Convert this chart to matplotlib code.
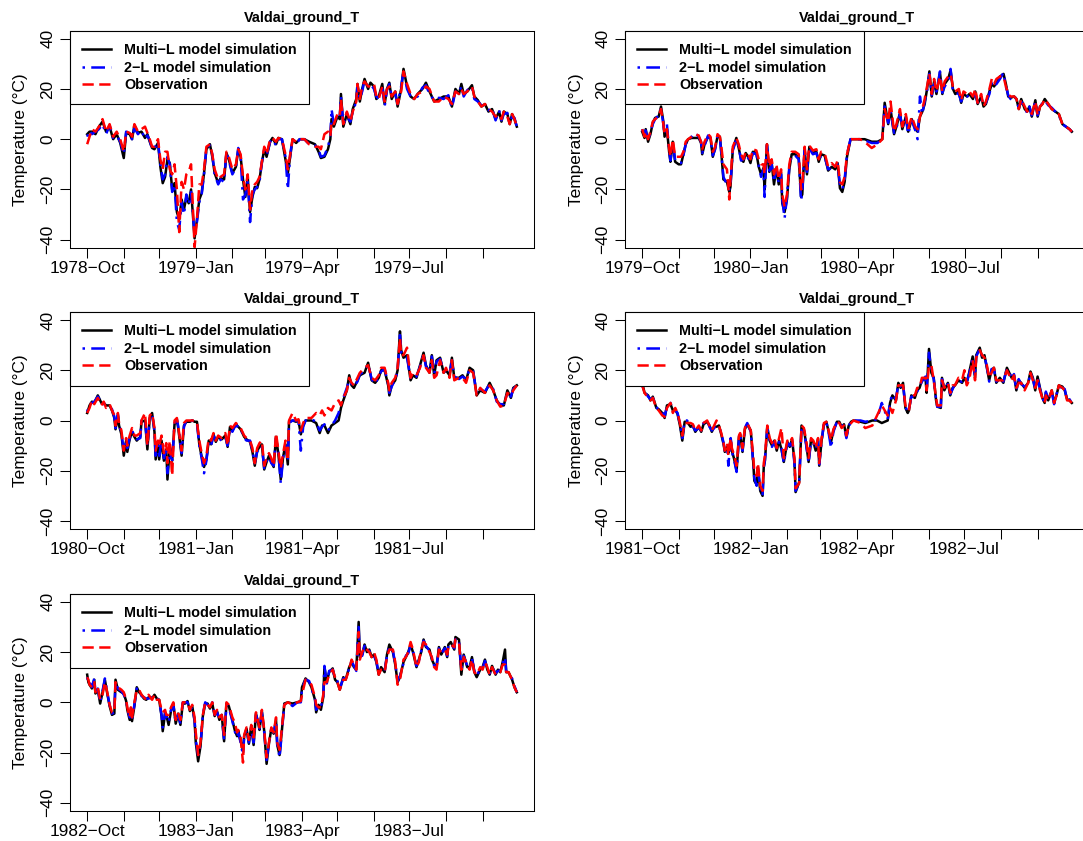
import matplotlib
matplotlib.use("Agg")
import matplotlib.pyplot as plt
import matplotlib.dates as mdates
import numpy as np
import datetime as dt

plt.rcParams['font.family'] = ['Liberation Sans', 'DejaVu Sans']

TITLE = "Valdai_ground_T"
YLABEL = "Temperature (\u00b0C)"
LABELS = ["Multi\u2212L model simulation", "2\u2212L model simulation", "Observation"]
COLORS = ["black", "blue", "red"]
YTICKS = [-40, -20, 0, 20, 40]
YLIM = (-40, 40)
START_DATES = ["1978-10-01", "1979-10-01", "1980-10-01", "1981-10-01", "1982-10-01"]

# ---------------- Panel 1 : 1978-10 .. 1979-09 (day offsets from start)
P1_DAYS = [0, 2, 4, 7, 10, 13, 16, 19, 22, 25,
           28, 31, 33, 36, 38, 40, 43, 46, 49, 51,
           53, 55, 57, 60, 62, 64, 66, 68, 70, 72,
           74, 76, 78, 80, 82, 84, 86, 88, 91, 93,
           95, 97, 99, 101, 104, 106, 108, 111, 113, 116,
           118, 120, 123, 126, 128, 130, 132, 134, 136, 138,
           140, 142, 144, 146, 148, 150, 152, 155, 157, 160,
           162, 165, 168, 170, 172, 174, 177, 180, 184, 188,
           193, 196, 198, 201, 204, 206, 207, 209, 212, 214,
           215, 217, 220, 223, 225, 228, 229, 231, 233, 235,
           238, 240, 243, 245, 247, 250, 252, 254, 256, 258,
           261, 263, 266, 268, 271, 274, 277, 280, 284, 287,
           290, 294, 298, 302, 306, 309, 312, 315, 317, 319,
           322, 326, 328, 331, 334, 337, 340, 343, 346, 349,
           351, 353, 356, 358, 360, 362, 364]
P1_MULTI = [2, 3, 3, 2, 5, 7, 3, 5, 0, 2,
            -1.5, -7.5, 2.5, 2, 0, 5.5, 2.5, 3, 0.5, 2,
            -1, -3.5, -4, -1.5, -11, -17.5, -15, -8, -9.5, -20,
            -17.5, -29, -32, -24, -28, -23, -25.5, -20, -39.5, -32,
            -24, -21.5, -13.5, -4, -2, -7, -13.5, -17.5, -15.5, -16,
            -5.5, -8, -13.5, -11, -4, -7, -16, -23, -15, -29,
            -23, -19, -19.5, -16, -9.5, -4, -7, -1, 0.5, -2,
            0.5, 0, -8, -13.5, -7, 0, -1.5, 0, 0, -1,
            -2, -5, -7.5, -7, -4, 0, 8, 5, 9, 8,
            18, 5, 10, 6, 12, 16, 22, 15, 20, 24,
            20, 22.5, 21, 16, 17, 22, 14, 20, 22.5, 16,
            19, 13, 20, 28, 21, 17, 16, 18, 20, 22.5,
            19, 15, 16, 17, 17, 13, 20, 18, 22, 18,
            19, 21.5, 17, 15.5, 13, 14, 11, 12, 8, 11,
            7, 11, 10, 6, 10, 8, 5]
P1_TWO = [1, 3.5, 2, 3, 4, 6, 2, 5.5, 0.5, 1.5,
          -1, -6, 3, 2.5, 0, 4.5, 2, 3.5, 0, 1.5,
          -0.5, -4, -3.5, -1, -10, -16, -14, -7, -10, -21,
          -18, -33, -36, -25, -30, -22, -26, -21, -38, -33,
          -25, -22, -14, -3.5, -2.5, -6, -14, -18, -16, -17,
          -5, -8.5, -14, -11.5, -3.5, -7.5, -24, -22, -17, -33,
          -22, -20, -19, -17, -9, -4.5, -6.5, -1, 0, -2.5,
          0, 0, -7, -20, -6, 0, -2, 0, 0, -2,
          -2.5, -4, -7, -6.5, -3, 1, 12, 6, 9.5, 8.5,
          17, 6, 9, 7, 11, 15, 21, 16, 19, 23.5,
          21, 22, 20, 17, 16, 21, 13, 19.5, 22, 17,
          18, 14, 21, 27, 20, 17, 16.5, 17, 20.5, 21.5,
          18, 15.5, 16.5, 16, 17.5, 12.5, 19, 18.5, 21, 17,
          19.5, 21, 16, 15, 13.5, 13, 11.5, 12.5, 7.5, 11.5,
          7.5, 10, 10.5, 6, 9, 8.5, 5]
P1_OBS = [-2, 1, 4, 3, 5, 8, 3, 6, 1, 3,
          0, -5, 3, 2.5, 1, 6, 3, 4, 5, 2.5,
          0, -3, -3, 0, -8, -12, -5, -5, -12, -14,
          -10, -20, -37, -17, -20, -14, -13, -10, -43, -32,
          -18, -18, -12, -3, -2, -6, -12, -16, -15, -14,
          -5, -7, -12, -10, -4, -6, -15, -20, -14, -28,
          -20, -18, -17, -15, -9, -3, -6, 0, 0.5, -1,
          0.5, 0, -6, -12, -6, 0, -1, 0, 0, -2,
          -3, -3, -4, 2, 3, 1, 7, 6, 10, 9,
          16, 6, 11, 7, 11, 15, 22, 16, 21, 23,
          21, 21, 22, 17, 16, 21, 15, 20, 21, 17,
          19, 14, 19, 27, 22, 18, 16, 18, 19, 21,
          20, 15, 15, 17, 16, 14, 19, 18, 20, 18,
          19, 21, 17, 15, 13, 14, 12, 11, 9, 10,
          8, 11, 9, 6, 10, 8, 5]

# ---------------- Panel 2 : 1979-10 .. 1980-09
P2_DAYS = [0, 2, 3, 5, 7, 9, 11, 14, 16, 18,
           19, 21, 23, 24, 26, 28, 31, 33, 35, 37,
           39, 42, 45, 48, 50, 51, 53, 56, 58, 60,
           62, 64, 66, 67, 69, 72, 74, 75, 77, 80,
           82, 84, 86, 88, 90, 92, 94, 97, 99, 101,
           103, 104, 106, 108, 110, 112, 114, 116, 118, 119,
           121, 123, 125, 127, 130, 133, 135, 136, 138, 140,
           142, 145, 148, 150, 152, 155, 158, 161, 164, 166,
           168, 170, 172, 174, 177, 181, 185, 189, 195, 200,
           204, 206, 209, 211, 214, 216, 219, 221, 224, 226,
           229, 232, 234, 236, 238, 240, 242, 244, 246, 248,
           250, 253, 255, 257, 260, 262, 264, 266, 269, 271,
           273, 276, 278, 281, 283, 285, 288, 290, 292, 295,
           297, 299, 301, 304, 307, 309, 311, 313, 316, 318,
           320, 322, 325, 327, 329, 331, 334, 336, 338, 340,
           342, 345, 348, 351, 354, 357, 360, 363, 365]
P2_MULTI = [3, 0.5, 4, -1, 2, 6.5, 8.5, 9, 13, 7,
            1, 4, -5.5, -9, -1, -9, -10, -10, -6, -2,
            0, 0.5, 0.5, 0.5, -1.5, -6, -2, 1, 0.5, -7,
            -3.5, 1, 1, -4, -16, -17, -21, -19, -4, 0.5,
            -3.5, -8, -9, -5.5, -7, -9.5, -5, -5.5, -11, -14,
            -11.5, -20, -2, -13, -9.5, -18, -11.5, -18, -13.5, -25.5,
            -29, -24, -12, -6, -6, -7.5, -23, -22, -4, -14,
            -3, -5.5, -5, -9, -6, -6.5, -12.5, -11, -12, -9.5,
            -19.5, -21, -17, -7, 0, 0, 0, 0, -1, -1,
            0, 14.5, 6, 12, 2, 5, 10.5, 4, 9, 3,
            8, 4, 3, 9, 11, 14, 20, 27, 17, 23,
            18, 26.5, 18, 22, 24, 27.5, 20, 18, 19, 14.5,
            18, 17, 18, 16, 19, 14, 17, 13, 14, 19,
            22, 21, 23, 25, 26, 22, 17, 16.5, 17, 16,
            12, 16, 12, 11, 13, 9, 15.5, 9, 13, 14,
            16, 14, 12, 11, 10, 6, 5, 4, 3]
P2_TWO = [4, 1, 3.5, -0.5, 2.5, 6, 8, 9.5, 12, 6,
          2, 6, -5, -8.5, -1.5, -8.5, -9.5, -9.5, -6.5, -2,
          0, 1, 2.5, 1, -1, -5.5, -2.5, 1.5, 0, -6.5,
          -4, 1.5, 0.5, -4.5, -15, -18, -20, -18, -4.5, 0,
          -3, -8.5, -8, -6, -7.5, -9, -5.5, -6, -10.5, -15,
          -12, -23, -2.5, -12.5, -10, -17, -12, -17.5, -14, -24,
          -31.5, -23, -11, -6.5, -6.5, -8, -24.5, -21, -4.5, -13,
          -3.5, -6, -5.5, -8.5, -6.5, -7, -12, -11.5, -11, -10,
          -18, -20, -16, -6, 0, 0, 0, -0.5, -1.5, -1.5,
          0.5, 13, 6.5, 11, 2.5, 4.5, 10, 4.5, 8.5, 2,
          7.5, 3.5, 0, 17, 10, 15, 19, 26, 17.5, 22,
          19, 27, 18.5, 21, 23, 28, 19, 18.5, 18, 15,
          17.5, 17, 17.5, 16.5, 18, 14.5, 16.5, 13.5, 14.5, 18,
          22.5, 21, 22, 24, 26.5, 21, 17.5, 16, 17.5, 15.5,
          12.5, 15, 12.5, 10.5, 13, 9.5, 15, 9.5, 12.5, 14.5,
          15.5, 13.5, 12.5, 11, 9.5, 6, 5, 4, 3]
P2_OBS = [4, 1, 3, 0, 3, 7, 8, 9, 12, 6,
          2, 4, -4, -7, 0, -7, -7, -7, -5, -1,
          0, 1, 2, 1.5, -1, -4, -1, 2, 1, -5,
          -3, 2, 1, -2, -10, -12, -24, -16, -3, 0.5,
          -2, -6, -8, -5, -6, -8, -4, -4.5, -8, -10,
          -10, -14, -2, -11, -8, -14, -10, -16, -12, -22,
          -27, -22, -10, -5, -5, -6, -20, -19, -3, -12,
          -2.5, -4.5, -4, -8, -5, -5.5, -11, -9.5, -11, -8.5,
          -17, -18, -15, -6, 0, 0, 0, -1, -3.5, -2,
          0, 12, 7, 15, 3, 6, 12, 5, 10, 4,
          9, 5, 4, 9, 12, 16, 21, 26, 18, 24,
          19, 25, 19, 23, 25, 26, 21, 19, 20, 15.5,
          19, 18, 19, 17, 20, 14.5, 18, 13, 15, 20,
          24, 22, 24, 25, 25, 21, 18, 17, 17, 16,
          12, 16, 13, 11, 12, 10, 15, 9.5, 13, 14,
          16, 14, 12, 11, 10, 6, 5, 4, 3]

# ---------------- Panel 3 : 1980-10 .. 1981-09
P3_DAYS = [0, 2, 4, 6, 9, 12, 14, 16, 19, 21,
           23, 24, 26, 27, 29, 31, 33, 34, 36, 38,
           40, 42, 45, 46, 49, 51, 53, 55, 57, 58,
           60, 61, 63, 65, 67, 68, 70, 72, 74, 76,
           77, 80, 82, 84, 87, 89, 91, 93, 95, 97,
           99, 101, 103, 105, 107, 109, 111, 114, 117, 119,
           121, 123, 126, 128, 130, 133, 135, 138, 140, 142,
           144, 146, 148, 150, 152, 154, 156, 158, 160, 162,
           164, 166, 168, 170, 171, 174, 177, 179, 181, 183,
           185, 190, 194, 197, 199, 201, 204, 207, 210, 213,
           215, 217, 220, 222, 224, 226, 229, 231, 235, 238,
           241, 244, 247, 249, 252, 255, 256, 258, 261, 263,
           265, 266, 268, 271, 274, 276, 279, 282, 285, 287,
           290, 292, 294, 296, 299, 302, 304, 307, 309, 311,
           315, 318, 321, 324, 327, 330, 333, 337, 341, 344,
           347, 350, 353, 356, 359, 361, 364]
P3_MULTI = [3, 6, 7.5, 7, 10, 7, 7, 6, 6, 4,
            1, -3.5, 2, -2, -5.5, -14, -8, -12.5, -7.5, -4.5,
            -6.5, -8, -6.5, -0.5, 0, -11.5, 1, 3, -4.5, -15.5,
            -9.5, -15.5, -8, -16, -11.5, -23.5, -10.5, -16, -1.5, 0,
            -2.5, -14, -2, -0.5, -0.5, 0, -0.5, -0.5, -9.5, -14.5,
            -18.5, -15.5, -8, -9.5, -5.5, -8.5, -6.5, -7.5, -6, -10.5,
            -2.5, -4, -1.5, -2.5, -3.5, -6.5, -7.5, -8.5, -12.5, -18,
            -12, -10.5, -9.5, -19.5, -16.5, -14, -16.5, -18.5, -6.5, -13.5,
            -23.5, -14.5, -9.5, -17.5, -0.5, 0, -0.5, 0, -5.5, -2,
            0, 0, -1, -5, -2, -2, -5, -2, -1, 0,
            5, 8, 12, 18, 14, 13, 16, 18, 19, 23,
            16, 15, 17, 20, 20, 14, 10, 14, 16, 20,
            35.5, 28, 25, 26, 16, 18, 17, 22, 27, 22,
            19, 26, 18, 24, 25, 19, 20, 18, 25, 17,
            17, 18, 16, 21, 20, 10, 12, 11, 15, 12,
            8, 6, 6, 12, 9, 13, 14]
P3_TWO = [3.5, 6.5, 7, 7.5, 9.5, 7.5, 6.5, 6.5, 5.5, 4.5,
          1.5, -3, 2.5, -1.5, -5, -12, -8.5, -11, -7, -4,
          -6, -7.5, -7, 0, 0.5, -10, 0.5, 2.5, -4, -14,
          -10, -14, -8.5, -15, -12, -21, -11, -17, -1, 0.5,
          -2, -13, -2.5, 0, -0.5, 0, -1, -1, -10, -15,
          -21, -16, -8.5, -10, -6, -8, -7, -8, -6.5, -10,
          -3, -4.5, -1.5, -3, -3, -7, -8, -8, -12, -17,
          -12.5, -11, -10, -19, -16, -14.5, -17, -18, -7, -13,
          -25, -15, -10, -16, -1, 0, 0, 0, -12, -2.5,
          0, 0.5, -0.5, -4, -2.5, -1.5, -4, -2, 0, 3,
          7, 9, 13, 16, 14.5, 13.5, 15.5, 18.5, 19.5, 22.5,
          16.5, 14.5, 17.5, 19.5, 20.5, 14.5, 11, 13.5, 16.5, 19.5,
          34, 27, 25.5, 25, 16.5, 17.5, 17.5, 21.5, 26.5, 21.5,
          19.5, 25.5, 18.5, 23.5, 24.5, 19.5, 19.5, 18.5, 24, 17.5,
          16.5, 17.5, 16.5, 20.5, 19.5, 10.5, 12.5, 11.5, 14.5, 12.5,
          7.5, 6.5, 6.5, 11, 9.5, 12.5, 14]
P3_OBS = [3, 5, 8, 6.5, 9, 6, 7.5, 5, 6.5, 4,
          2, -2, 3, -1, -4, -12, -7, -10, -6, -3,
          -6, -6, -5, 0, 3, -10, 2, 3, -3, -12,
          -8, -10, -6, -13, -9, -17, -8, -22, 0, 1,
          -2, -12, -1, 0, 0, 0, 0, -0.5, -8, -13,
          -17, -14, -7, -8, -5, -8, -6, -7, -5, -10,
          -2, -3, -1, -2, -3, -6, -7, -8, -11, -17,
          -11, -9, -8, -18, -15, -13, -15, -18, -5, -12,
          -19, -13, -8, -16, 0, 3, 0, 0.5, -4, -1,
          1, 1, 3, 2, 4, 2, 5, 4, 7, 8,
          6, 9, 12, 17, 15, 14, 17, 19, 21, 22,
          17, 16, 18, 21, 21, 15, 12, 15, 17, 21,
          33, 26, 26, 29, 17, 19, 18, 21, 26, 21,
          19, 24, 17, 18, 24, 19, 21, 17, 24, 16,
          17, 17, 15, 20, 19, 10, 13, 11, 14, 12,
          8, 5.5, 6, 11, 10, 12, 14]

# ---------------- Panel 4 : 1981-10 .. 1982-09
P4_DAYS = [0, 2, 5, 7, 9, 12, 14, 17, 19, 21,
           24, 26, 28, 30, 32, 34, 36, 38, 41, 43,
           45, 48, 50, 52, 55, 57, 59, 61, 63, 65,
           67, 69, 70, 72, 73, 75, 76, 78, 80, 82,
           83, 85, 87, 89, 92, 94, 95, 97, 98, 100,
           102, 103, 104, 106, 108, 110, 112, 114, 116, 118,
           120, 123, 125, 127, 129, 130, 133, 135, 137, 139,
           141, 143, 145, 147, 149, 150, 152, 154, 156, 158,
           160, 162, 165, 167, 169, 171, 173, 175, 177, 179,
           185, 189, 195, 199, 203, 208, 210, 212, 215, 217,
           219, 221, 223, 225, 226, 228, 231, 233, 235, 237,
           240, 241, 243, 245, 247, 249, 250, 253, 254, 256,
           259, 261, 263, 265, 268, 271, 273, 275, 277, 280,
           282, 283, 286, 288, 290, 292, 294, 296, 298, 300,
           303, 306, 309, 311, 313, 315, 317, 319, 321, 324,
           327, 329, 331, 333, 335, 337, 339, 341, 342, 344,
           347, 349, 351, 353, 356, 358, 360, 362, 364]
P4_MULTI = [15, 11, 10, 8, 9.5, 5, 4.5, 3, 1, 6,
            6.5, 4, 4.5, 2.5, -2, -8, -0.5, -0.5, -2.5, -2,
            -4.5, -2.5, -4.5, -1.5, -0.5, -2, -4.5, -2.5, -2.5, -2,
            -5.5, -9.5, -12.5, -10.5, -13, -7.5, -12, -15.5, -20, -6.5,
            -5.5, -12.5, -3.5, -1.5, -4, -16, -24, -25.5, -18.5, -28,
            -30, -18.5, -16, -2.5, -8, -10, -8, -12, -8, -11.5,
            -16.5, -8.5, -10.5, -7.5, -16, -28.5, -24.5, -2, -3.5, -9.5,
            -16.5, -8, -8.5, -12, -7.5, -18, -8, -1.5, -0.5, -4.5,
            -8.5, -4, -0.5, -0.5, -2.5, -1.5, -6.5, -2, -0.5, 0,
            -0.5, -1, 0, 0, -1, 0, 7, 10, 8, 15,
            13, 15, 5, 3, 4, 10, 9, 12, 13, 16,
            17, 11, 28.5, 19, 17, 8, 5.5, 5, 17, 12,
            15, 10, 13, 14, 16, 15, 17, 15, 19, 25.5,
            17, 26, 29, 25, 26, 21, 16, 20, 21, 15,
            17, 15, 21, 19, 17, 18, 12, 16, 15, 13,
            15, 19.5, 17, 12, 17.5, 13, 9, 7, 11, 8,
            12, 7, 10, 14, 13.5, 12, 8.5, 8, 7]
P4_TWO = [14, 11.5, 9.5, 8.5, 9, 5.5, 4, 3.5, 1.5, 5.5,
          7, 4.5, 4, 3, -1.5, -7, 0, 0, -2, -2.5,
          -4, -3, -4, -1, 0, -2.5, -4, -3, -2, -2.5,
          -5, -9, -12, -11, -18, -7, -12.5, -16, -20.5, -7,
          -6, -12, -3, -1, -4.5, -17, -23, -26, -19, -27,
          -30, -19, -15.5, -3, -8.5, -10.5, -8.5, -11.5, -8.5, -11,
          -17, -9, -10, -8, -17, -28, -25, -2.5, -4, -10,
          -17, -8.5, -9, -11.5, -8, -17.5, -8.5, -1, -0.5, -5,
          -11, -4.5, -0.5, -1, -2, -2, -7, -2.5, 0, 0,
          0, -0.5, 0, 0.5, 7, 0.5, 7.5, 10.5, 8.5, 14.5,
          13.5, 14.5, 5.5, 3.5, 4.5, 9.5, 9.5, 11.5, 13.5, 15.5,
          17.5, 11.5, 27, 19.5, 16.5, 8.5, 5.5, 5.5, 16.5, 12.5,
          14.5, 10.5, 12.5, 14.5, 15.5, 15.5, 16.5, 15.5, 18.5, 25,
          17.5, 25.5, 28.5, 25.5, 25.5, 21.5, 15.5, 20.5, 20.5, 15.5,
          16.5, 15.5, 20.5, 19.5, 16.5, 18.5, 12, 16.5, 14.5, 13.5,
          14.5, 19, 16.5, 12.5, 17, 12.5, 9.5, 6.5, 11.5, 8.5,
          11.5, 6.5, 10.5, 13.5, 13, 12.5, 8, 8.5, 7]
P4_OBS = [14, 11, 9, 8, 9, 5, 4, 2, 1.5, 5,
          7, 3, 5, 3, -1, -6, -1, -1, -1, -1.5,
          -4, -2, -4, -1, 0, -2, -4, -2, 0, -2,
          -5, -9, -12, -9, -14, -7, -11, -14, -18, -6,
          -5, -11, -3, -1, -4, -14, -20, -22, -17, -26,
          -28, -17, -14, -2, -7, -9, -7, -11, -7, -3,
          -15, -8, -9, -7, -15, -27, -25, -2, -3, -8,
          -15, -7, -8, -11, -7, -17, -7, -1, -0.5, -4,
          -8, -3.5, -0.5, -1, -3, -2, -6, -2, -1, 0,
          -1, -3, -2, 2, 6, 2, 5, 3, 8, 14,
          14, 14, 6, 4, 4, 10, 10, 13, 13, 17,
          17, 12, 22, 22, 16, 9, 6, 6, 16, 13,
          15, 11, 14, 14, 17, 16, 20, 14, 16, 24,
          16, 25, 28, 26, 25, 22, 17, 19, 21, 16,
          16, 16, 20, 18, 16, 18, 13, 15, 15, 12,
          15, 19, 16, 13, 16, 12, 9, 7, 10, 8,
          12, 7, 10, 14, 13, 12, 8, 8, 7]

# ---------------- Panel 5 : 1982-10 .. 1983-09
P5_DAYS = [0, 1, 2, 4, 6, 7, 9, 11, 13, 15,
           17, 19, 21, 23, 24, 26, 29, 31, 33, 34,
           36, 37, 38, 40, 42, 44, 46, 48, 50, 52,
           55, 57, 59, 61, 63, 64, 66, 67, 69, 71,
           73, 75, 77, 79, 81, 83, 85, 87, 89, 91,
           92, 94, 96, 98, 100, 102, 104, 106, 108, 110,
           112, 114, 116, 118, 120, 123, 125, 127, 128, 130,
           132, 133, 135, 137, 139, 141, 143, 145, 146, 148,
           150, 152, 154, 156, 158, 160, 161, 163, 165, 167,
           170, 174, 178, 181, 182, 185, 188, 190, 193, 194,
           196, 198, 200, 201, 203, 205, 208, 210, 212, 214,
           217, 219, 222, 224, 226, 228, 230, 231, 233, 235,
           237, 239, 241, 243, 245, 247, 249, 252, 254, 256,
           259, 261, 263, 265, 268, 270, 272, 274, 276, 279,
           281, 283, 285, 287, 290, 292, 294, 296, 298, 300,
           303, 305, 306, 308, 311, 312, 315, 317, 319, 322,
           324, 326, 328, 330, 333, 335, 337, 339, 341, 343,
           346, 348, 350, 352, 354, 355, 357, 360, 362, 364]
P5_MULTI = [11, 8, 7, 5.5, 9, 3.5, 5, -0.5, 4, 9,
            3.5, -1.5, -5, -4.5, 9, 5, 4, 3.5, 0.5, -3,
            -7, -3, -7.5, -1.5, 6, 4, 3, 1.5, 1, 2,
            1.5, 3, 1.5, 1, -5.5, -11.5, -4.5, -5, -9, -3.5,
            -0.5, -8.5, -4.5, -9, -0.5, -0.5, 0.5, -3.5, -1.5, -7.5,
            -16, -23.5, -17.5, -5.5, -0.5, -0.5, -2.5, -0.5, -5.5, -3.5,
            -7, -5, -15.5, -0.5, -1.5, -7, -11, -13.5, -11.5, -15.5,
            -19, -13.5, -10.5, -16.5, -9.5, -17, -4.5, -8.5, -11, -3.5,
            -11.5, -24.5, -16.5, -10.5, -12.5, -7, -17, -21, -11, -0.5,
            0, -0.5, 0, 0.5, 6, 9.5, 8, 6, 1, -4,
            -1, -3, 2, 14, 8, 12, 13.5, 9, 8, 5,
            10, 9, 14, 16, 14, 13, 32, 18, 19, 23,
            20, 21, 18, 19, 16, 11, 14, 12, 19, 23,
            20, 15, 8, 10, 16, 18, 20, 23, 20, 14,
            17, 20, 25, 22, 21, 17, 15, 14, 22, 19,
            22, 18, 23, 24, 21, 26, 25, 11, 19, 14,
            14, 18, 12, 10, 13, 14, 17, 13, 11, 14.5,
            11, 13, 12, 16, 21, 12, 12, 9, 6, 4]
P5_TWO = [10, 7.5, 8, 6, 9.5, 4, 5.5, 0, 4.5, 9.5,
          4, -1, -4.5, -4, 8, 5.5, 4.5, 3, 1, -2.5,
          -6, -3.5, -6.5, -1, 5.5, 4.5, 2.5, 2, 1.5, 1.5,
          2, 2.5, 2, 0.5, -5, -10, -4, -5.5, -8, -3,
          -1, -8, -5, -8.5, 0, 0, 0, -3, -2, -7,
          -15, -21, -17, -5, 0, -1, -2, 0, -5, -4,
          -6.5, -5.5, -15, -1, -2, -7.5, -11.5, -14, -12, -16,
          -21, -14, -11, -16, -10, -16, -5, -8, -10.5, -4,
          -12, -23, -16, -11, -12, -7.5, -16.5, -22, -11.5, -1,
          0, -1.5, 0, 0, 5.5, 9, 8.5, 5.5, 1.5, -3,
          -1.5, -2, 2, 14.5, 7.5, 12.5, 13, 9.5, 8.5, 5.5,
          9.5, 9.5, 13.5, 16.5, 14.5, 12.5, 30, 18.5, 18.5, 22.5,
          20.5, 20.5, 18.5, 18.5, 16.5, 11.5, 13.5, 12.5, 18.5, 22.5,
          20.5, 15.5, 8.5, 10.5, 15.5, 18.5, 19.5, 22.5, 20.5, 14.5,
          16.5, 20.5, 24.5, 22.5, 20.5, 17.5, 14.5, 14.5, 21.5, 19.5,
          21.5, 18.5, 22.5, 23.5, 21.5, 25.5, 24.5, 13, 18.5, 14.5,
          13.5, 17.5, 12.5, 10.5, 13.5, 13.5, 16.5, 13.5, 11.5, 14,
          11.5, 12.5, 12.5, 15.5, 18, 12.5, 11.5, 9.5, 6.5, 4]
P5_OBS = [10, 9, 7, 6, 8, 4, 6, 1, 3, 8,
          4, -1, -4, -4, 8, 6, 5, 4, 1, -2,
          -6, -2, -6, 0, 5, 5, 3, 2, 1, 3,
          1, 3, 1, 1, -3, -4, -3, -5, -5, -2,
          0, -7, -4, -7, 0, 0, 0, -3, -1, -6,
          -12, -21, -16, -5, 0, -1, -2, 0, -5, -3,
          -6, -5, -13, 0, -1, -6, -8, -12, -11, -14,
          -24, -13, -10, -15, -9, -14, -4, -8, -10, -3,
          -11, -22, -16, -10, -12, -6, -16, -19, -10, -1,
          0, -1, 0, 0.5, 3, 9, 8, 7, 2, -1,
          -2, -2, 3, 8, 8, 11, 13, 10, 8, 5,
          9, 9, 13, 17, 15, 13, 28, 17, 20, 22,
          21, 20, 18, 20, 17, 11, 13, 12, 18, 21,
          21, 16, 7, 9, 17, 18, 20, 24, 21, 14,
          16, 21, 24, 23, 20, 18, 14, 13, 21, 20,
          21, 19, 22, 23, 22, 25, 24, 13, 18, 15,
          13, 17, 12, 11, 14, 13, 16, 14, 11, 14,
          11, 12, 12, 15, 15, 12, 12, 9, 6, 4]

PANELS = [
    (START_DATES[0], P1_DAYS, P1_MULTI, P1_TWO, P1_OBS),
    (START_DATES[1], P2_DAYS, P2_MULTI, P2_TWO, P2_OBS),
    (START_DATES[2], P3_DAYS, P3_MULTI, P3_TWO, P3_OBS),
    (START_DATES[3], P4_DAYS, P4_MULTI, P4_TWO, P4_OBS),
    (START_DATES[4], P5_DAYS, P5_MULTI, P5_TWO, P5_OBS),
]

# ---------------- layout (pixels)
W, H = 1083, 841
fig = plt.figure(figsize=(W / 100, H / 100), dpi=100)
LEFTS = [70, 625]
TOPS = [30.7, 312.0, 593.8]
AX_W, AX_H = 464, 217
TICK_FS = 12.45
SMALL_FS = 10.4
LW = 1.8
STYLES = ["-", (0, (1.0, 2.5, 5.5, 2.5)), (0, (4.5, 2.2))]

for i, (start, days, multi, two, obs) in enumerate(PANELS):
    assert len(days) == len(multi) == len(two) == len(obs), (i, len(days), len(multi), len(two), len(obs))
    r, c = divmod(i, 2)
    left, top = LEFTS[c], TOPS[r]
    ax = fig.add_axes([left / W, 1 - (top + AX_H) / H, AX_W / W, AX_H / H])
    t0 = dt.datetime.strptime(start, "%Y-%m-%d")
    x = [t0 + dt.timedelta(days=int(d)) for d in days]
    handles = []
    for vals, col, ls, lab in zip([multi, two, obs], COLORS, STYLES, LABELS):
        h, = ax.plot(x, vals, color=col, lw=LW, linestyle=ls, label=lab)
        handles.append(h)

    x0 = mdates.date2num(x[0])
    x1 = mdates.date2num(x[-1])
    span = x1 - x0
    ax.set_xlim(x0 - 0.04 * span, x1 + 0.04 * span)
    yspan = YLIM[1] - YLIM[0]
    ax.set_ylim(YLIM[0] - 0.04 * yspan, YLIM[1] + 0.04 * yspan)

    # month ticks, labels every third month
    ticks, tlabels = [], []
    for k in range(12):
        m = (9 + k) % 12 + 1
        y = t0.year + (9 + k) // 12
        d = dt.datetime(y, m, 1)
        ticks.append(mdates.date2num(d))
        tlabels.append(f"{y}\u2212{d.strftime('%b')}" if k % 3 == 0 else "")
    ax.set_xticks(ticks)
    ax.set_xticklabels(tlabels)
    ax.set_yticks(YTICKS)
    ax.set_yticklabels([str(v).replace("-", "\u2212") for v in YTICKS])
    ax.tick_params(axis='both', direction='out', length=7.5, width=0.75,
                   labelsize=TICK_FS, colors='black')
    ax.tick_params(axis='x', pad=2.0)
    ax.tick_params(axis='y', pad=3.0)
    for lbl in ax.get_yticklabels():
        lbl.set_rotation(90)
        lbl.set_va('center')
        lbl.set_ha('right')
    for sp in ax.spines.values():
        sp.set_linewidth(0.75)
        sp.set_color('black')

    leg = ax.legend(handles=handles, loc='upper left', bbox_to_anchor=(0, 1),
                    borderaxespad=0, frameon=True, fancybox=False,
                    edgecolor='black', framealpha=1, handlelength=2.0,
                    handletextpad=0.9, borderpad=0.85, labelspacing=0.25,
                    prop={'weight': 'bold', 'size': SMALL_FS})
    leg.get_frame().set_linewidth(0.8)

    fig.text((left + AX_W / 2) / W, 1 - (top - 12.5) / H, TITLE,
             ha='center', va='center', fontsize=SMALL_FS, fontweight='bold')
    fig.text((left - 49) / W, 1 - (top + AX_H / 2) / H, YLABEL,
             rotation=90, ha='center', va='center', fontsize=TICK_FS)

fig.savefig("out.png", dpi=100)
